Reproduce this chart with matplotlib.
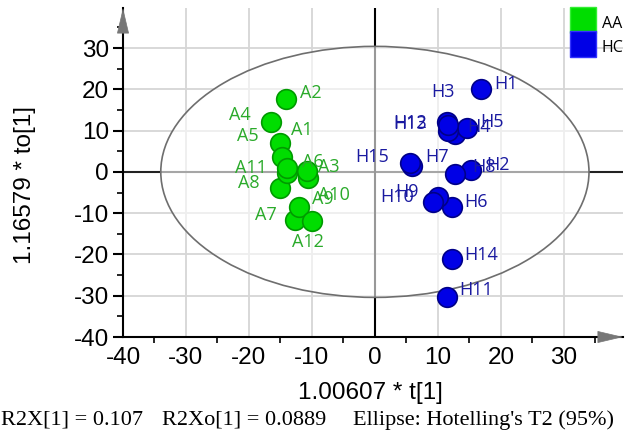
import matplotlib
matplotlib.use('Agg')
import matplotlib.pyplot as plt
from matplotlib.patches import Ellipse
from matplotlib.lines import Line2D
from matplotlib.ticker import MultipleLocator

plt.rcParams['axes.unicode_minus'] = False

# scores
aa_names = ['A1', 'A2', 'A3', 'A4', 'A5', 'A6', 'A7', 'A8', 'A9', 'A10', 'A11', 'A12']
aa_x = [-15.1, -14.1, -10.6, -16.5, -14.8, -10.8, -12.7, -15.0, -12.1, -14.0, -14.0, -10.0]
aa_y = [6.9, 17.6, -1.5, 12.2, 3.5, 0.3, -11.6, -3.9, -8.4, -0.3, 0.9, -12.0]

hc_names = ['H1', 'H2', 'H3', 'H4', 'H5', 'H6', 'H7', 'H8', 'H9', 'H10',
            'H11', 'H12', 'H13', 'H14', 'H15']
hc_x = [16.9, 15.3, 11.4, 12.7, 14.6, 12.2, 5.9, 12.7, 10.0, 9.3,
        11.4, 11.6, 11.6, 12.2, 5.6]
hc_y = [20.0, 0.5, 12.2, 9.2, 10.6, -8.4, 1.5, -0.5, -6.0, -7.2,
        -30.2, 9.8, 11.4, -21.1, 2.1]

ell_w, ell_h = 68.0, 60.8   # Hotelling's T2 (95%)

# label offsets in pixels (left edge of text, centre)
aa_off = {'A1': (11, 13), 'A2': (14, 6), 'A3': (10, 11), 'A4': (-42, 7),
          'A5': (-45, 21), 'A6': (-5, 9), 'A7': (-40, 5), 'A8': (-42, 5),
          'A9': (13, 8), 'A10': (31, -22), 'A11': (-52, 0), 'A12': (-20, -21)}
hc_off = {'H1': (13, 5), 'H2': (15, 5), 'H3': (-15, 30), 'H4': (12, 7),
          'H5': (13, 6), 'H6': (13, 5), 'H7': (13, 9), 'H8': (17, 7),
          'H9': (-43, 5), 'H10': (-53, 5), 'H11': (13, 7), 'H12': (-55, 8),
          'H13': (-55, 1), 'H14': (13, 4), 'H15': (-55, 6)}

green, green_edge, green_txt = '#00dd00', '#009a00', '#2aaa2a'
blue, blue_edge, blue_txt = '#0000e6', '#000088', '#1a1aa0'

fig = plt.figure(figsize=(6.38, 4.33), dpi=100)
ax = fig.add_axes([123/638, 1 - 337/433, 500/638, 329/433])
ax.set_xlim(-40, 39.4)
ax.set_ylim(-40, 39.7)

ax.xaxis.set_major_locator(MultipleLocator(10))
ax.yaxis.set_major_locator(MultipleLocator(10))
ax.xaxis.set_minor_locator(MultipleLocator(5))
ax.yaxis.set_minor_locator(MultipleLocator(5))
ax.grid(True, which='major', color='#d6d6d6', lw=1.3)
ax.set_axisbelow(True)

for s in ['top', 'right']:
    ax.spines[s].set_visible(False)
for s in ['left', 'bottom']:
    ax.spines[s].set_linewidth(1.5)
    ax.spines[s].set_color('black')

ax.tick_params(axis='y', which='major', length=7, width=1.5, pad=3, labelsize=17.5)
ax.tick_params(axis='y', which='minor', length=4, width=1.2)
ax.tick_params(axis='x', which='major', length=0, pad=7, labelsize=17.5)
ax.tick_params(axis='x', which='minor', length=4, width=1.2)
for lab in ax.get_xticklabels() + ax.get_yticklabels():
    lab.set_fontfamily('Liberation Sans')

ax.axhline(0, color='#222222', lw=1.5, zorder=1)
ax.axvline(0, color='black', lw=1.5, zorder=1)

ax.add_patch(Ellipse((0, 0), ell_w, ell_h, facecolor=(1, 1, 1, 0.6),
                     edgecolor='#6e6e6e', lw=1.2, zorder=2))

ax.scatter(aa_x, aa_y, s=200, c=green, edgecolors=green_edge, linewidths=1.2, zorder=3)
ax.scatter(hc_x, hc_y, s=200, c=blue, edgecolors=blue_edge, linewidths=1.2, zorder=3)

for n, x, y in zip(aa_names, aa_x, aa_y):
    ax.annotate(n, (x, y), xytext=aa_off[n], textcoords='offset pixels',
                ha='left', va='center', color=green_txt, fontsize=13,
                family='Open Sans', zorder=4)
for n, x, y in zip(hc_names, hc_x, hc_y):
    ax.annotate(n, (x, y), xytext=hc_off[n], textcoords='offset pixels',
                ha='left', va='center', color=blue_txt, fontsize=13,
                family='Open Sans', zorder=4)

# arrow heads on the axes
arw = dict(arrowstyle='-|>,head_length=1.7,head_width=0.4', color='#777777',
           lw=0.5, shrinkA=0, shrinkB=0, mutation_scale=10)
ax.annotate('', xy=(0, 1), xycoords='axes fraction', xytext=(0, -24),
            textcoords='offset pixels', arrowprops=arw, annotation_clip=False)
ax.annotate('', xy=(1, 0), xycoords='axes fraction', xytext=(-22, 0),
            textcoords='offset pixels', arrowprops=arw, annotation_clip=False)

handles = [Line2D([], [], marker='s', ls='none', markersize=18.5,
                  markerfacecolor=green, markeredgecolor='#33ee33'),
           Line2D([], [], marker='s', ls='none', markersize=18.5,
                  markerfacecolor=blue, markeredgecolor='#3333ff')]
leg = fig.legend(handles, ['AA', 'HC'], loc='upper left',
                 bbox_to_anchor=(569/638, 1 - 11/433), frameon=False,
                 borderpad=0, borderaxespad=0, handlelength=1.7, handleheight=1.96,
                 handletextpad=0.35, labelspacing=0,
                 prop={'family': 'Open Sans', 'size': 11.5})

fig.text(370/638, 1 - 393/433, '1.00607 * t[1]', ha='center', va='center',
         fontsize=17.5, family='Liberation Sans')
fig.text(25/638, 1 - 185/433, '1.16579 * to[1]', ha='center', va='center',
         rotation=90, fontsize=17.5, family='Liberation Sans')

fig.text(1/638, 1 - 420/433, 'R2X[1] = 0.107', ha='left', va='center',
         fontsize=16, family='Liberation Serif')
fig.text(162/638, 1 - 420/433, 'R2Xo[1] = 0.0889', ha='left', va='center',
         fontsize=16, family='Liberation Serif')
fig.text(353/638, 1 - 420/433, "Ellipse: Hotelling's T2 (95%)", ha='left', va='center',
         fontsize=16, family='Liberation Serif')

fig.savefig('out.png', dpi=100)
